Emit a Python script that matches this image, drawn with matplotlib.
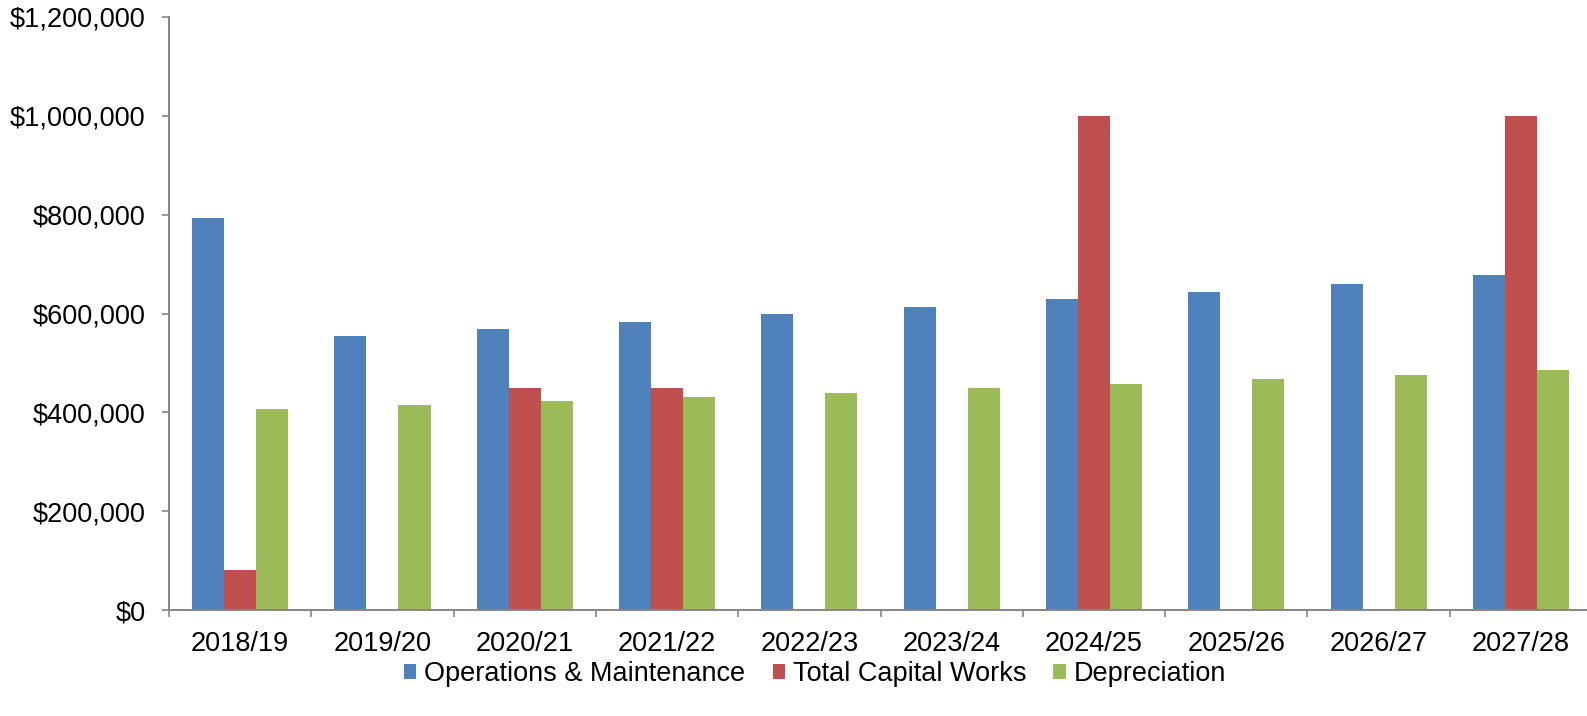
import numpy as np
import matplotlib
matplotlib.use("Agg")
import matplotlib.pyplot as plt
from matplotlib.ticker import FuncFormatter, FixedLocator

# chart data
years = ["2018/19", "2019/20", "2020/21", "2021/22", "2022/23",
         "2023/24", "2024/25", "2025/26", "2026/27", "2027/28"]
ops_maint = [793000, 555000, 569000, 583000, 599000,
             613000, 629000, 644000, 660000, 678000]
capital_works = [80000, 0, 450000, 450000, 0,
                 0, 1000000, 0, 0, 1000000]
depreciation = [407000, 415000, 423000, 431000, 439000,
                449000, 458000, 468000, 475000, 486000]

series = [
    ("Operations & Maintenance", ops_maint, "#4F81BD"),
    ("Total Capital Works", capital_works, "#C0504D"),
    ("Depreciation", depreciation, "#9BBB59"),
]

plt.rcParams['font.family'] = ['Liberation Sans', 'DejaVu Sans']
FS = 19.5

fig = plt.figure(figsize=(15.87, 7.16), dpi=100)
ax = fig.add_axes([0.1065, 0.148, 0.8967, 0.8283])

x = np.arange(len(years))
width = 0.225
for i, (name, vals, color) in enumerate(series):
    ax.bar(x + (i - 1) * width, vals, width, color=color, label=name, linewidth=0)

ax.set_xlim(-0.5, len(years) - 0.5)
ax.set_ylim(0, 1200000)
ax.set_yticks(np.arange(0, 1200001, 200000))
ax.yaxis.set_major_formatter(FuncFormatter(lambda v, p: f"${v:,.0f}"))

ax.set_xticks(x)
ax.set_xticklabels(years)
ax.xaxis.set_minor_locator(FixedLocator(np.arange(-0.5, len(years), 1.0)))

axis_grey = "#868686"
for side in ["top", "right"]:
    ax.spines[side].set_visible(False)
for side in ["left", "bottom"]:
    ax.spines[side].set_color(axis_grey)
    ax.spines[side].set_linewidth(1.4)

ax.tick_params(axis="y", direction="out", length=5, width=1.2, color=axis_grey,
               labelsize=FS, pad=12)
ax.tick_params(axis="x", which="major", length=0, labelsize=FS, pad=15)
ax.tick_params(axis="x", which="minor", direction="out", length=5, width=1.2,
               color=axis_grey)

ax.legend(loc="center", bbox_to_anchor=(0.454, -0.108), ncol=3,
          frameon=False, fontsize=FS, handlelength=0.45, handleheight=0.45,
          handletextpad=0.3, columnspacing=1.0, bbox_transform=ax.transAxes)

fig.savefig("out.png", dpi=100)
